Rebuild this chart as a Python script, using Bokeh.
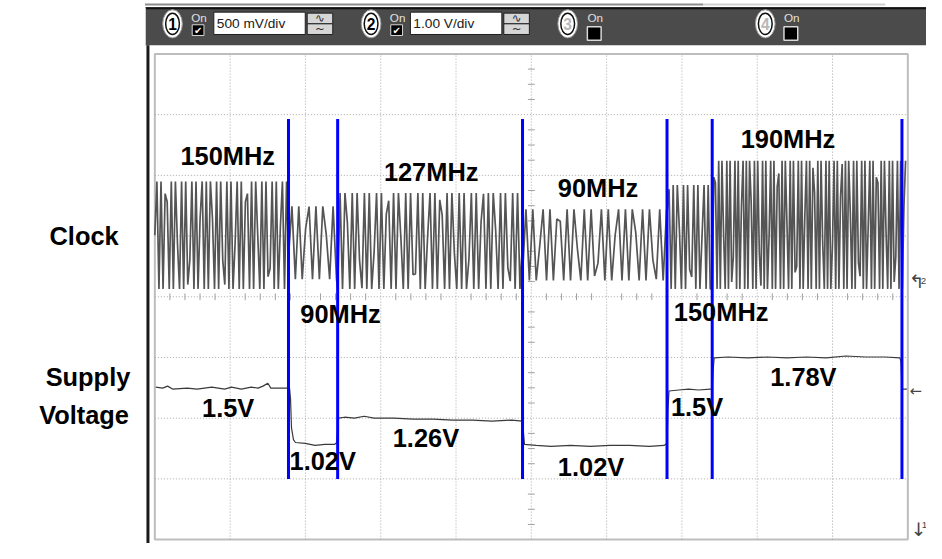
import numpy as np
from bokeh.plotting import figure
from bokeh.models import Range1d
from bokeh.core.properties import value
from bokeh.embed import file_html
from bokeh.resources import INLINE

# ---------------- data (scope screen units: x 0..10 div, y 0..8 div) ----------------
NS_PER_DIV = 100  # time base
clock_seg_start = [0.0, 1.775, 2.428, 4.883, 6.802, 7.402]
clock_seg_end = [1.775, 2.428, 4.883, 6.802, 7.402, 9.98]
clock_mhz = [150, 90, 127, 90, 150, 190]
clock_high = [5.90, 5.49, 5.71, 5.44, 5.84, 6.24]
clock_low = [4.13, 4.29, 4.13, 4.27, 4.13, 4.13]

supply_x = [0.013, 0.104, 0.170, 0.235, 0.431, 0.561, 0.757, 0.927, 1.018, 1.149, 1.279,
            1.371, 1.436, 1.501, 1.540, 1.671, 1.789, 1.802, 1.815, 1.841, 1.867, 1.997,
            2.128, 2.258, 2.389, 2.415, 2.428, 2.441, 2.520, 2.650, 2.781, 2.911, 3.172,
            3.433, 3.695, 3.956, 4.217, 4.478, 4.739, 4.883, 4.896, 4.909, 5.065, 5.261,
            5.522, 5.783, 6.044, 6.305, 6.567, 6.762, 6.802, 6.815, 6.828, 6.958, 7.089,
            7.219, 7.376, 7.402, 7.415, 7.428, 7.611, 7.872, 8.133, 8.394, 8.655, 8.916,
            9.178, 9.439, 9.700, 9.896, 9.909, 9.922, 9.987]
supply_y = [2.512, 2.496, 2.528, 2.480, 2.496, 2.480, 2.512, 2.480, 2.512, 2.480, 2.512,
            2.496, 2.528, 2.576, 2.496, 2.496, 2.496, 2.320, 1.840, 1.648, 1.600, 1.584,
            1.552, 1.568, 1.568, 1.600, 1.840, 2.000, 2.016, 2.000, 2.032, 2.000, 2.000,
            1.984, 1.984, 1.968, 1.968, 1.952, 1.968, 1.952, 1.760, 1.568, 1.552, 1.536,
            1.552, 1.536, 1.552, 1.552, 1.536, 1.552, 1.584, 2.160, 2.448, 2.464, 2.480,
            2.464, 2.480, 2.480, 2.800, 2.992, 3.008, 2.992, 3.008, 2.992, 3.008, 2.992,
            3.024, 3.008, 3.008, 2.992, 2.928, 2.480, 2.480]

marker_x = [1.775, 2.428, 4.883, 6.802, 7.402, 9.922]
marker_bottom = 1.0
marker_top = 6.93

freq_labels = ["150MHz", "127MHz", "90MHz", "190MHz", "90MHz", "150MHz"]
volt_labels = ["1.5V", "1.02V", "1.26V", "1.02V", "1.5V", "1.78V"]
signal_names = ["Clock", "Supply", "Voltage"]
channel_ids = ["1", "2", "3", "4"]
channel_scales = ["500 mV/div", "1.00 V/div"]

# ---------------- layout helpers (reference pixel -> screen divisions) ----------------
PX_X, PX_Y = 76.6, 62.5
SX0, SY0 = 157, 555
REF_W, REF_H = 942, 559
W, H = 926, 543
S = (W / REF_W + H / REF_H) / 2  # overall drawing scale


def fx(px):
    return (px - SX0) / PX_X


def fy(py):
    return (SY0 - py) / PX_Y


def wx(px):
    return px / PX_X


def wy(px):
    return px / PX_Y


def fs(px):
    return f"{px * S:.1f}px"


FONT = value("Liberation Sans")
SYM = value("DejaVu Sans")

p = figure(width=W, height=H, output_backend="svg", toolbar_location=None,
           x_axis_type=None, y_axis_type=None, min_border=0,
           x_range=Range1d(fx(0), fx(REF_W)), y_range=Range1d(fy(REF_H), fy(0)))
p.outline_line_color = None
p.background_fill_color = "white"
p.border_fill_color = "white"

# ---------- bezel / header ----------
p.segment(x0=[fx(147)], y0=[fy(4)], x1=[fx(715)], y1=[fy(4)], line_color="#8c8c8c", line_width=2)
p.segment(x0=[fx(715)], y0=[fy(4)], x1=[fx(900)], y1=[fy(4)], line_color="#d0d0d0", line_width=2)
p.quad(left=[fx(147)], right=[fx(950)], top=[fy(7)], bottom=[fy(46)],
       fill_color="#4b4b4b", line_color=None)
p.segment(x0=[fx(147)], y0=[fy(8)], x1=[fx(950)], y1=[fy(8)], line_color="#111111", line_width=2)
p.segment(x0=[fx(147.5)], y0=[fy(7)], x1=[fx(147.5)], y1=[fy(46)], line_color="#cfcfcf", line_width=1)
p.segment(x0=[fx(150)], y0=[fy(46)], x1=[fx(150)], y1=[fy(600)], line_color="#1a1a1a", line_width=3)

# channel controls
circ_x = [175, 377, 577, 778]
p.ellipse(x=[fx(c) for c in circ_x], y=[fy(24)] * 4, width=wx(20), height=wy(29),
          fill_color="white", line_color="#9a9a9a", line_width=1)
p.ellipse(x=[fx(c) for c in circ_x], y=[fy(24)] * 4, width=wx(14), height=wy(22),
          fill_color="white", line_color="#101010", line_width=1.5)
p.text(x=[fx(c) for c in circ_x[:2]], y=[fy(24.5)] * 2, text=channel_ids[:2],
       text_font=FONT, text_font_style="bold", text_font_size=fs(16),
       text_align="center", text_baseline="middle", text_color="black")
p.text(x=[fx(c) for c in circ_x[2:]], y=[fy(24.5)] * 2, text=channel_ids[2:],
       text_font=FONT, text_font_style="bold", text_font_size=fs(16),
       text_align="center", text_baseline="middle", text_color="#b8b8b8")
on_x = [202, 404, 605, 805]
p.text(x=[fx(c) for c in on_x], y=[fy(18)] * 4, text=["On"] * 4,
       text_font=FONT, text_font_size=fs(12), text_align="center",
       text_baseline="middle", text_color="#e0e0e0")
# checkboxes
p.quad(left=[fx(195), fx(397)], right=[fx(207), fx(409)], top=[fy(25)] * 2, bottom=[fy(36)] * 2,
       fill_color="black", line_color="#d8d8d8", line_width=1)
p.text(x=[fx(201), fx(403)], y=[fy(30.5)] * 2, text=["\u2714"] * 2,
       text_font=SYM, text_font_size=fs(10), text_align="center",
       text_baseline="middle", text_color="white")
p.quad(left=[fx(597), fx(797)], right=[fx(611), fx(811)], top=[fy(27)] * 2, bottom=[fy(41)] * 2,
       fill_color="black", line_color="#d8d8d8", line_width=1.5)
# scale boxes
box_l = [217, 417]
p.quad(left=[fx(b) for b in box_l], right=[fx(b + 93) for b in box_l], top=[fy(12)] * 2,
       bottom=[fy(35)] * 2, fill_color="white", line_color="#202020", line_width=1)
p.text(x=[fx(b + 3) for b in box_l], y=[fy(24)] * 2, text=channel_scales,
       text_font=FONT, text_font_size=fs(14), text_align="left",
       text_baseline="middle", text_color="#202020")
btn_l = [312, 512]
p.quad(left=[fx(b) for b in btn_l] * 2, right=[fx(b + 26) for b in btn_l] * 2,
       top=[fy(13)] * 2 + [fy(24)] * 2, bottom=[fy(24)] * 2 + [fy(35)] * 2,
       fill_color="#d6d6d6", line_color="#202020", line_width=1)
p.text(x=[fx(b + 13) for b in btn_l] * 2, y=[fy(18.5)] * 2 + [fy(29.5)] * 2,
       text=["\u223f"] * 2 + ["~"] * 2, text_font=SYM,
       text_font_size=fs(12), text_align="center", text_baseline="middle", text_color="#303030")

# ---------- graticule ----------
p.quad(left=[0], right=[10], top=[8], bottom=[0], fill_color="white",
       line_color="#bdbdbd", line_width=2)
gx = list(range(1, 10))
gy = list(range(1, 8))
p.segment(x0=gx, y0=[0] * len(gx), x1=gx, y1=[8] * len(gx), line_color="#a8a8a8",
          line_width=1, line_dash="1 2")
p.segment(x0=[0] * len(gy), y0=gy, x1=[10] * len(gy), y1=gy, line_color="#a8a8a8",
          line_width=1, line_dash="1 2")
tick_x = [k * 0.2 for k in range(1, 50) if k % 5]
p.segment(x0=tick_x, y0=[4 - wy(3.5)] * len(tick_x), x1=tick_x, y1=[4 + wy(3.5)] * len(tick_x),
          line_color="#a0a0a0", line_width=1)
tick_y = [k * 0.25 for k in range(1, 32) if k % 4]
p.segment(x0=[5 - wx(3.5)] * len(tick_y), y0=tick_y, x1=[5 + wx(3.5)] * len(tick_y), y1=tick_y,
          line_color="#a0a0a0", line_width=1)

# ---------- clock trace (sampled clock at the given frequencies) ----------
cx, cy = [], []
for s, e, f, hi, lo in zip(clock_seg_start, clock_seg_end, clock_mhz, clock_high, clock_low):
    period = (1000.0 / f) / NS_PER_DIV
    t = np.arange(s, e, 0.41 * period)
    mid, half = (hi + lo) / 2, (hi - lo) / 2
    v = np.clip(2.5 * np.sin(2 * np.pi * t / period), -1, 1)
    cx.extend(t.tolist())
    cy.extend((mid + half * v).tolist())
p.line(cx, cy, line_color="#555555", line_width=1.7)

# ---------- supply trace ----------
p.line(supply_x, supply_y, line_color="#3a3a3a", line_width=1.2)

# ---------- markers ----------
p.segment(x0=marker_x, y0=[marker_bottom] * 6, x1=marker_x, y1=[marker_top] * 6,
          line_color="#0000ff", line_width=3)

# ---------- annotations ----------
freq_pos = [(183, 160), (390, 177), (567, 193), (753, 143), (305, 323), (685, 321)]
volt_pos = [(205, 419), (294, 474), (399, 450), (567, 480), (682, 418), (783, 388)]
p.text(x=[fx(a) for a, b in freq_pos], y=[fy(b) for a, b in freq_pos], text=freq_labels,
       text_font=FONT, text_font_style="bold", text_font_size=fs(26),
       text_align="left", text_baseline="middle", text_color="black")
p.text(x=[fx(a) for a, b in volt_pos], y=[fy(b) for a, b in volt_pos], text=volt_labels,
       text_font=FONT, text_font_style="bold", text_font_size=fs(26),
       text_align="left", text_baseline="middle", text_color="black")
p.text(x=[fx(85), fx(89), fx(85)], y=[fy(242), fy(388), fy(427)], text=signal_names,
       text_font=FONT, text_font_style="bold", text_font_size=fs(26),
       text_align="center", text_baseline="middle", text_color="black")

# right-edge reference indicators
p.text(x=[fx(932)], y=[fy(289)], text=["\u21b0"], text_font=SYM,
       text_font_size=fs(19), text_align="center", text_baseline="middle", text_color="#444444")
p.text(x=[fx(939)], y=[fy(289)], text=["2"], text_font=FONT,
       text_font_size=fs(10), text_align="center", text_baseline="middle", text_color="#444444")
p.text(x=[fx(931)], y=[fy(402)], text=["\u2190"], text_font=SYM,
       text_font_size=fs(15), text_align="center", text_baseline="middle", text_color="#444444")
p.text(x=[fx(934)], y=[fy(545)], text=["\u2193"], text_font=SYM,
       text_font_size=fs(19), text_align="center", text_baseline="middle", text_color="#444444")
p.text(x=[fx(940)], y=[fy(540)], text=["1"], text_font=FONT,
       text_font_size=fs(10), text_align="center", text_baseline="middle", text_color="#444444")

open("out.html", "w").write(file_html(p, INLINE))
